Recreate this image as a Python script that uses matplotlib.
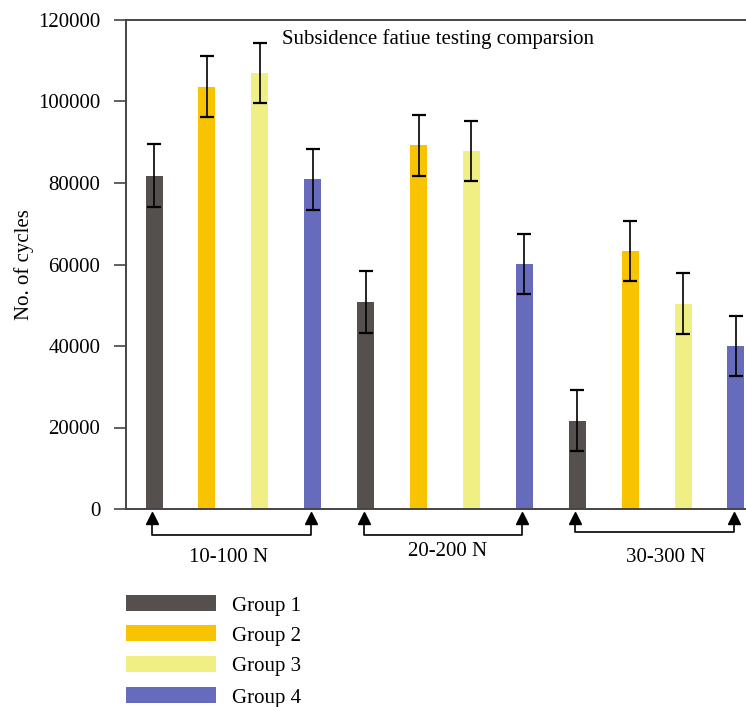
import numpy as np
import matplotlib.pyplot as plt
from matplotlib.patches import Rectangle

plt.rcParams['font.family'] = ['Liberation Serif', 'DejaVu Serif']
plt.rcParams['font.size'] = 15

# ---- data ----
load_ranges = ['10-100 N', '20-200 N', '30-300 N']
groups = ['Group 1', 'Group 2', 'Group 3', 'Group 4']
colors = ['#55504E', '#F8C300', '#F0EF84', '#666BBB']

# cycles per load range, one row per group
cycles = [
    [81800, 50800, 21700],    # Group 1
    [103600, 89300, 63300],   # Group 2
    [107000, 87800, 50400],   # Group 3
    [80900, 60200, 40000],    # Group 4
]
errors = [
    [7700, 7500, 7400],
    [7500, 7500, 7400],
    [7400, 7400, 7400],
    [7500, 7400, 7400],
]

# ---- figure ----
W, H = 746, 707
fig = plt.figure(figsize=(W / 100, H / 100), dpi=100)
ax = fig.add_axes([126 / W, (H - 509) / H, 1 - 126 / W, 489 / H])

n_groups = len(groups)
bar_w = 0.32
for g in range(n_groups):
    xs = [c * n_groups + g for c in range(len(load_ranges))]
    ax.bar(xs, cycles[g], width=bar_w, color=colors[g], zorder=2)
    ax.errorbar(xs, cycles[g], yerr=errors[g], fmt='none', ecolor='black',
                elinewidth=1.2, capsize=5, capthick=1.6, zorder=3)

ax.set_xlim(-0.53, 11.19)
ax.set_ylim(0, 120000)
ax.set_yticks(np.arange(0, 120001, 20000))
ax.set_xticks([])

for side in ['left', 'bottom', 'top']:
    ax.spines[side].set_color('#444444')
    ax.spines[side].set_linewidth(1.4)
ax.spines['right'].set_visible(False)
ax.tick_params(axis='y', direction='out', length=8.5, width=1.2,
               color='#444444', labelsize=15, pad=10)
ax.set_ylabel('No. of cycles', fontsize=15, labelpad=3)

ax.text(0.504, 0.961, 'Subsidence fatiue testing comparsion', transform=ax.transAxes,
        ha='center', va='center', fontsize=15)

# brackets linking first and last bar of each load range
tri_y = -2300
bracket_y = [-6400, -6400, -5650]
label_dx = [-0.05, 0.08, 0.22]
label_y = [-11800, -10550, -12000]
for c, name in enumerate(load_ranges):
    x0 = c * n_groups - 0.04
    x1 = c * n_groups + n_groups - 1 - 0.04
    ax.plot([x0, x1], [tri_y, tri_y], linestyle='none', marker='^',
            markersize=8.5, color='black', clip_on=False, zorder=4)
    ax.plot([x0, x0, x1, x1], [tri_y, bracket_y[c], bracket_y[c], tri_y],
            color='black', linewidth=1.2, clip_on=False, zorder=4)
    ax.text((x0 + x1) / 2 + label_dx[c], label_y[c], name, ha='center',
            va='center', fontsize=15, clip_on=False)

# legend: colour swatch and group name per row
row_y = [603, 633, 664, 695]
for col, name, y in zip(colors, groups, row_y):
    fig.add_artist(Rectangle((126 / W, 1 - (y + 8) / H), 90 / W, 16 / H,
                             transform=fig.transFigure, facecolor=col,
                             edgecolor='none'))
    fig.text(232 / W, 1 - (y + 3) / H, name, ha='left', va='center', fontsize=15)

fig.savefig('out.png', dpi=100)
